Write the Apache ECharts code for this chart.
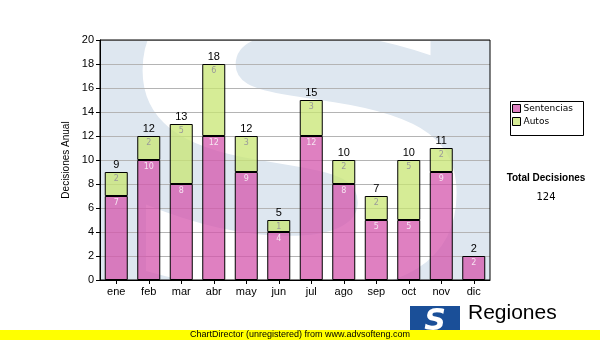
<!DOCTYPE html>
<html>
<head>
<meta charset="utf-8">
<script src="https://cdn.jsdelivr.net/npm/echarts@6/dist/echarts.min.js"></script>
<style>
  html, body { margin: 0; padding: 0; background: #fff; }
  #chart { width: 600px; height: 340px; }
</style>
</head>
<body>
<div id="chart"></div>
<script>
// Monthly decisions, split by type
const months = ['ene', 'feb', 'mar', 'abr', 'may', 'jun', 'jul', 'ago', 'sep', 'oct', 'nov', 'dic'];
const sentencias = [7, 10, 8, 12, 9, 4, 12, 8, 5, 5, 9, 2];
const autos = [2, 2, 5, 6, 3, 1, 3, 2, 2, 5, 2, 0];
const yTicks = [0, 2, 4, 6, 8, 10, 12, 14, 16, 18, 20];

const totals = months.map((m, i) => sentencias[i] + autos[i]);
const grandTotal = totals.reduce((a, b) => a + b, 0);

const plot = { left: 100, top: 40, right: 490, bottom: 280 };
const BAR_W = 23;
const FONT = 'Liberation Sans, Arial, sans-serif';
const VFONT = 'DejaVu Sans, Verdana, sans-serif';

const chart = echarts.init(document.getElementById('chart'), null, { renderer: 'canvas' });

const segLabel = (color) => ({
  show: true,
  position: 'insideTop',
  distance: 3,
  fontFamily: VFONT,
  fontSize: 8,
  color: color,
  formatter: (p) => (p.value ? String(p.value) : '')
});

chart.setOption({
  animation: false,
  backgroundColor: '#ffffff',
  grid: {
    left: plot.left,
    top: plot.top,
    width: plot.right - plot.left,
    height: plot.bottom - plot.top,
    show: false
  },
  legend: {
    orient: 'vertical',
    left: 512,
    top: 104,
    itemWidth: 8,
    itemHeight: 8,
    itemGap: 4,
    icon: 'rect',
    padding: 0,
    data: ['Sentencias', 'Autos'],
    itemStyle: { borderColor: '#000', borderWidth: 1, opacity: 1 },
    textStyle: { fontFamily: VFONT, fontSize: 9, color: '#000', padding: [0, 0, 0, -2] }
  },
  xAxis: {
    type: 'category',
    data: months,
    axisLine: { show: true, lineStyle: { color: '#000', width: 1 } },
    axisTick: { show: true, alignWithLabel: true, length: 4, lineStyle: { color: '#000' } },
    axisLabel: { fontFamily: FONT, fontSize: 11, color: '#000', margin: 6 },
    splitLine: { show: false }
  },
  yAxis: {
    type: 'value',
    min: yTicks[0],
    max: yTicks[yTicks.length - 1],
    interval: yTicks[1] - yTicks[0],
    name: 'Decisiones Anual',
    nameLocation: 'middle',
    nameRotate: 90,
    nameGap: 26,
    nameTextStyle: { fontFamily: FONT, fontSize: 10, color: '#000' },
    axisLine: { show: true, lineStyle: { color: '#000', width: 1 } },
    axisTick: { show: true, length: 4, lineStyle: { color: '#000' } },
    axisLabel: { fontFamily: FONT, fontSize: 11, color: '#000', margin: 6 },
    splitLine: { show: true, lineStyle: { color: '#b4b4b4', width: 1 } }
  },
  series: [
    {
      name: 'Sentencias',
      type: 'bar',
      stack: 'dec',
      barWidth: BAR_W,
      data: sentencias,
      itemStyle: { color: 'rgba(212, 86, 172, 0.75)', borderColor: '#000', borderWidth: 1 },
      label: segLabel('#f6e4f1'),
      z: 3
    },
    {
      name: 'Autos',
      type: 'bar',
      stack: 'dec',
      barWidth: BAR_W,
      data: autos.map(v => (v ? v : '-')),
      itemStyle: { color: 'rgba(200, 229, 115, 0.75)', borderColor: '#000', borderWidth: 1 },
      label: segLabel('#9a9a9a'),
      z: 3
    },
    {
      name: 'Total',
      type: 'bar',
      barWidth: BAR_W,
      barGap: '-100%',
      data: totals,
      itemStyle: { color: 'rgba(0,0,0,0)', borderWidth: 0 },
      label: {
        show: true,
        position: 'top',
        distance: 2,
        fontFamily: FONT,
        fontSize: 11,
        color: '#000'
      },
      silent: true,
      z: 4
    }
  ],
  graphic: [
    // faded logo watermark behind the plot
    {
      type: 'rect',
      z: -10,
      shape: { x: plot.left, y: plot.top, width: plot.right - plot.left, height: plot.bottom - plot.top },
      style: { fill: '#dee7f0' }
    },
    {
      type: 'text',
      z: -9,
      x: 300,
      y: 178,
      scaleX: 1.3,
      style: {
        text: 'S',
        fontFamily: VFONT,
        fontWeight: 'bold',
        fontSize: 420,
        fill: '#ffffff',
        align: 'center',
        verticalAlign: 'middle'
      }
    },
    // plot frame
    {
      type: 'rect',
      z: 10,
      shape: { x: plot.left, y: plot.top, width: plot.right - plot.left, height: plot.bottom - plot.top },
      style: { fill: 'none', stroke: '#000', lineWidth: 1 }
    },
    // legend box
    {
      type: 'rect',
      z: 10,
      shape: { x: 510.5, y: 101.5, width: 73, height: 34 },
      style: { fill: 'none', stroke: '#000', lineWidth: 1 }
    },
    {
      type: 'text',
      z: 10,
      x: 546,
      y: 178,
      style: {
        text: 'Total Decisiones',
        fontFamily: FONT,
        fontWeight: 'bold',
        fontSize: 10,
        fill: '#000',
        align: 'center',
        verticalAlign: 'middle'
      }
    },
    {
      type: 'text',
      z: 10,
      x: 546,
      y: 197,
      style: {
        text: String(grandTotal),
        fontFamily: VFONT,
        fontSize: 10,
        fill: '#000',
        align: 'center',
        verticalAlign: 'middle'
      }
    },
    // organisation logo
    {
      type: 'rect',
      z: 10,
      shape: { x: 410, y: 306, width: 50, height: 28 },
      style: { fill: '#1a4f98' }
    },
    {
      type: 'text',
      z: 11,
      x: 435,
      y: 322,
      style: {
        text: 'S',
        fontFamily: VFONT,
        fontWeight: 'bold',
        fontStyle: 'italic',
        fontSize: 30,
        fill: '#ffffff',
        align: 'center',
        verticalAlign: 'middle'
      }
    },
    {
      type: 'text',
      z: 10,
      x: 468,
      y: 303,
      style: {
        text: 'Regiones',
        fontFamily: FONT,
        fontSize: 21,
        fill: '#000',
        align: 'left',
        verticalAlign: 'top'
      }
    },
    // footer band
    {
      type: 'rect',
      z: 20,
      shape: { x: 0, y: 330, width: 600, height: 10 },
      style: { fill: '#ffff00' }
    },
    {
      type: 'text',
      z: 21,
      x: 300,
      y: 335,
      style: {
        text: 'ChartDirector (unregistered) from www.advsofteng.com',
        fontFamily: FONT,
        fontSize: 9,
        fill: '#000',
        align: 'center',
        verticalAlign: 'middle'
      }
    }
  ]
});
</script>
</body>
</html>
